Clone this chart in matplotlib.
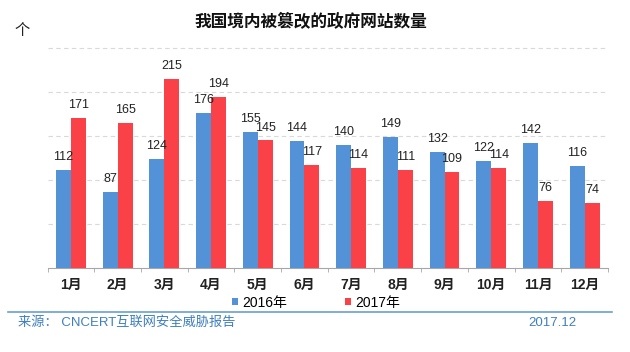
import matplotlib
matplotlib.use("Agg")
import matplotlib.pyplot as plt
import numpy as np
from matplotlib.patches import Patch
from matplotlib.lines import Line2D

plt.rcParams['font.family'] = ['Liberation Sans', 'Noto Sans CJK SC', 'DejaVu Sans']

months = ["1月", "2月", "3月", "4月", "5月", "6月", "7月", "8月", "9月", "10月", "11月", "12月"]
series_names = ["2016年", "2017年"]
values_2016 = [112, 87, 124, 176, 155, 144, 140, 149, 132, 122, 142, 116]
values_2017 = [171, 165, 215, 194, 145, 117, 114, 111, 109, 114, 76, 74]

blue = "#5392D6"
red = "#FA4148"

W, H = 630, 352
fig = plt.figure(figsize=(W / 100, H / 100), dpi=100)
ax = fig.add_axes([47.6 / W, 1 - 268.3 / H, (608 - 47.6) / W, (268.3 - 47) / H])

x = np.arange(len(months))
bw = 0.32
b1 = ax.bar(x - bw / 2, values_2016, bw, color=blue, zorder=3)
b2 = ax.bar(x + bw / 2, values_2017, bw, color=red, zorder=3)

for bars, vals in ((b1, values_2016), (b2, values_2017)):
    for rect, v in zip(bars, vals):
        ax.annotate(str(v), (rect.get_x() + rect.get_width() / 2, rect.get_height()),
                    xytext=(0, 5), textcoords="offset points", ha="center", va="bottom",
                    fontsize=9, color="#222222", zorder=4)

ax.set_xlim(-0.5, len(months) - 0.5)
ax.set_ylim(0, 251)
ax.set_yticks([50, 100, 150, 200, 250])
ax.yaxis.grid(True, linestyle=(0, (4, 3)), color="#D9D9D9", linewidth=0.8, zorder=0)
ax.tick_params(axis="y", left=False, labelleft=False)
ax.set_xticks(x)
ax.set_xticklabels(months, fontsize=10, fontweight="bold", color="#222222")
ax.set_xticks(np.arange(-0.5, len(months)), minor=True)
ax.tick_params(axis="x", which="major", length=0, pad=7)
ax.tick_params(axis="x", which="minor", length=3, color="#A6A6A6", direction="out")
for s in ("top", "right", "left"):
    ax.spines[s].set_visible(False)
ax.spines["bottom"].set_color("#A6A6A6")

fig.text(311 / W, 1 - 22 / H, "我国境内被篡改的政府网站数量", ha="center", va="center",
         fontsize=12, fontweight="bold", color="#111111")
fig.text(22 / W, 1 - 31 / H, "个", ha="center", va="center", fontsize=11, color="#222222")

handles = [Patch(facecolor=blue), Patch(facecolor=red)]
fig.legend(handles, series_names, loc="center", bbox_to_anchor=(316 / W, 1 - 302.7 / H),
           ncol=2, frameon=False, fontsize=10, handlelength=0.45, handleheight=0.45,
           handletextpad=0.25, columnspacing=4.2)

fig.add_artist(Line2D([8 / W, 612 / W], [1 - 311.7 / H, 1 - 311.7 / H],
                      transform=fig.transFigure, color="#6A9FCF", linewidth=1.2))
fig.text(18 / W, 1 - 323 / H, "来源： CNCERT互联网安全威胁报告", ha="left", va="center",
         fontsize=9.5, color="#3F7FBF")
fig.text(552 / W, 1 - 323 / H, "2017.12", ha="center", va="center",
         fontsize=9.5, color="#3F7FBF")

fig.savefig("out.png", dpi=100)
